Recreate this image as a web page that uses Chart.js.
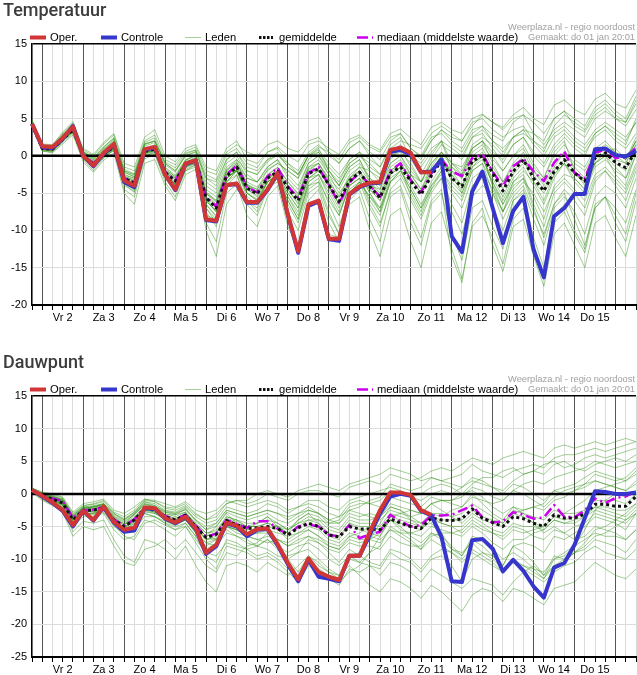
<!DOCTYPE html>
<html><head><meta charset="utf-8">
<script src="https://cdn.jsdelivr.net/npm/chart.js@4.4.1/dist/chart.umd.min.js"></script>
<style>
html,body{margin:0;padding:0;background:#fff;}
body{width:637px;height:675px;position:relative;overflow:hidden;}
.panel{position:absolute;left:0;width:637px;height:324px;}
</style></head><body>
<div class="panel" style="top:0"><canvas id="c1" width="637" height="324"></canvas></div>
<div class="panel" style="top:352px"><canvas id="c2" width="637" height="324"></canvas></div>
<script>
// ---------- tick labels / categories ----------
const dayLabels = ['Vr 2','Za 3','Zo 4','Ma 5','Di 6','Wo 7','Do 8','Vr 9','Za 10','Zo 11','Ma 12','Di 13','Wo 14','Do 15'];
const sourceLines = ['Weerplaza.nl - regio noordoost', 'Gemaakt: do 01 jan 20:01'];
const legendNames = ['Oper.', 'Controle', 'Leden', 'gemiddelde', 'mediaan (middelste waarde)'];
const times = [];
for (let i = 0; i < 60; i++) {
  const h = 18 + i * 6;
  times.push('jan ' + (1 + Math.floor(h / 24)) + ' ' + String(h % 24).padStart(2, '0') + ':00');
}

// ---------- Temperatuur ----------
const tempOper = [4.3,1.3,1.2,2.4,3.9,0.0,-1.3,0.4,1.6,-3.3,-4.0,0.9,1.2,-2.5,-4.5,-1.0,-0.6,-8.5,-8.7,-3.9,-3.7,-6.2,-6.2,-4.5,-2.3,-7.9,-12.8,-6.5,-6.0,-11.1,-11.1,-5.1,-4.1,-3.6,-3.5,0.8,1.1,0.4,-2.2,-2.2];
const tempControle = [4.3,1.2,1.1,2.3,4.0,0.0,-1.4,0.3,1.5,-3.5,-4.2,0.8,1.1,-2.5,-4.6,-1.1,-0.6,-8.6,-8.8,-3.9,-3.8,-6.3,-6.3,-4.6,-2.4,-8.0,-13.0,-6.7,-6.1,-11.2,-11.4,-5.2,-4.2,-3.7,-3.6,0.5,0.8,0.2,-2.2,-2.1,-0.5,-10.8,-12.9,-4.8,-2.1,-7.0,-11.7,-7.4,-5.5,-12.6,-16.3,-8.1,-7.0,-5.1,-5.1,0.9,1.0,0.1,-0.1,0.7];
const tempGemiddelde = [4.2,1.0,0.9,2.2,3.5,0.0,-1.1,0.2,1.2,-3.0,-3.6,0.6,0.9,-2.2,-3.4,-1.1,-0.6,-5.6,-7.0,-2.7,-1.5,-4.3,-5.1,-3.0,-2.1,-4.3,-6.0,-2.4,-1.7,-3.9,-6.1,-3.4,-2.2,-4.1,-5.6,-2.3,-1.5,-3.4,-5.2,-2.7,-0.6,-3.0,-4.1,-0.7,0.0,-2.3,-4.7,-2.1,-0.5,-3.0,-4.7,-2.1,-0.5,-2.3,-3.4,-0.3,0.4,-0.9,-1.6,0.8];
const tempMediaan = [4.2,1.0,0.9,2.3,3.6,0.1,-1.0,0.3,1.3,-3.0,-3.6,0.7,1.0,-2.1,-3.3,-1.0,-0.5,-5.5,-6.8,-2.5,-1.3,-4.2,-4.9,-2.8,-1.6,-4.1,-5.6,-2.3,-1.5,-3.9,-6.4,-3.6,-2.2,-4.0,-5.5,-2.0,-1.0,-3.3,-4.9,-2.4,-0.5,-2.1,-2.7,-0.3,0.2,-2.1,-4.1,-1.4,-0.4,-2.1,-3.4,-0.9,0.6,-2.3,-3.0,0.4,0.85,-0.3,-0.2,1.1];
const tempLeden = [
 [4.6,1.4,1.2,2.8,4.0,0.6,-0.4,1.0,2.2,-1.8,-2.4,1.6,2.0,-0.8,-1.6,0.4,0.8,-2.5,-3.2,0.2,1.0,-1.0,-1.6,0.5,1.2,0.0,-0.8,1.5,2.0,1.0,0.2,2.2,2.8,1.5,0.8,3.0,3.6,2.4,1.5,3.8,4.5,3.5,3.0,5.0,5.6,4.5,3.8,5.5,6.5,5.0,4.2,6.8,7.5,6.2,5.5,7.6,8.4,7.0,6.4,8.8],
 [4.0,0.8,0.6,2.0,3.2,-0.4,-1.5,0.0,1.0,-3.5,-4.2,0.4,0.6,-2.8,-4.0,-1.4,-1.0,-6.5,-8.2,-3.5,-2.0,-4.0,-4.5,-1.8,-1.0,-2.0,-3.0,0.2,1.2,0.5,-0.5,1.8,2.5,1.2,0.5,2.5,3.0,1.0,-0.2,2.0,3.5,2.0,1.0,3.5,4.0,2.8,2.0,4.5,5.5,4.5,3.0,5.0,6.0,4.0,3.2,5.5,6.5,5.0,4.0,6.2],
 [4.4,1.0,0.8,2.4,3.6,0.2,-1.4,0.4,1.0,-3.6,-4.6,0.2,0.6,-2.6,-4.4,-1.6,-1.0,-7.5,-9.5,-4.0,-2.6,-6.0,-7.5,-4.2,-3.5,-7.5,-10.0,-5.0,-4.0,-8.0,-10.5,-6.0,-4.5,-8.5,-11.5,-5.5,-4.5,-9.0,-12.0,-6.5,-5.0,-10.5,-14.0,-7.0,-6.0,-9.5,-12.5,-6.0,-5.0,-11.0,-15.0,-8.0,-6.5,-10.0,-12.5,-6.5,-5.5,-9.0,-11.5,-6.0],
 [4.1,1.1,1.0,2.2,3.4,0.0,-1.0,0.4,1.4,-2.8,-3.2,0.8,1.0,-2.0,-3.0,-0.8,-0.2,-4.8,-6.0,-2.0,-1.0,-3.5,-4.2,-2.5,-1.5,-3.5,-5.0,-1.5,-1.0,-3.0,-4.5,-2.0,-1.0,-3.0,-4.0,-1.0,0.0,-2.0,-3.5,-1.0,0.5,-1.5,-2.5,0.5,1.5,-0.5,-2.0,0.0,1.0,-1.5,-3.0,0.0,1.5,-0.5,-1.5,1.0,2.0,0.5,-0.5,2.0],
 [4.3,0.9,0.7,2.0,3.3,-0.5,-2.0,-0.3,0.8,-4.5,-5.5,-0.4,0.2,-3.5,-5.5,-2.0,-1.2,-9.0,-11.5,-5.0,-3.8,-8.0,-9.5,-5.5,-4.0,-9.5,-12.5,-6.0,-4.5,-9.0,-11.5,-5.0,-3.5,-5.5,-7.0,-2.5,-1.5,-2.5,-3.5,-1.0,0.5,-1.0,-1.5,1.0,2.0,0.5,-0.5,1.5,2.5,0.5,-1.0,1.5,3.0,1.5,0.5,2.5,3.5,2.0,1.0,3.0],
 [4.2,1.2,1.0,2.5,3.8,0.2,-0.8,0.5,1.6,-2.5,-3.0,1.0,1.5,-1.5,-2.6,-0.5,0.0,-4.5,-5.5,-1.8,-0.8,-3.8,-4.8,-2.8,-2.5,-5.5,-8.0,-4.0,-3.5,-7.5,-10.5,-6.5,-5.5,-10.0,-13.5,-8.0,-7.0,-11.5,-15.0,-9.0,-7.5,-12.5,-16.5,-9.5,-8.0,-11.0,-14.5,-8.5,-7.0,-12.0,-16.0,-9.0,-7.5,-10.5,-13.0,-7.0,-5.5,-7.0,-9.0,-4.5],
 [4.0,0.6,0.5,1.8,3.0,-0.3,-1.2,0.0,0.9,-3.2,-3.8,0.4,0.8,-2.4,-3.6,-1.2,-0.6,-5.0,-6.0,-2.0,-0.5,-2.0,-2.5,-0.5,0.5,-1.5,-2.5,0.0,0.8,-1.0,-2.5,-0.5,0.5,-2.0,-3.5,-0.5,1.0,0.5,-0.5,2.0,3.5,2.5,2.0,4.0,5.5,4.5,3.5,5.0,5.5,3.0,1.5,3.5,4.5,3.5,2.5,5.0,6.0,5.0,4.5,7.0],
 [4.5,1.3,1.1,2.6,3.9,0.4,-0.6,0.8,2.0,-2.2,-2.8,1.3,1.8,-1.6,-2.8,-0.6,0.2,-6.0,-7.5,-3.0,-2.0,-5.5,-6.5,-3.5,-2.5,-5.0,-7.0,-3.0,-2.0,-4.0,-6.5,-3.0,-1.5,-2.0,-3.0,0.5,1.5,0.0,-1.0,1.0,2.0,-2.0,-4.0,-1.0,0.0,-4.0,-6.5,-3.5,-2.5,-6.5,-9.5,-5.0,-3.5,-5.0,-7.0,-3.0,-2.0,-4.0,-6.0,-2.0],
 [4.0,0.7,0.4,1.6,2.8,-0.8,-2.2,-0.6,0.4,-5.0,-6.5,-1.0,-0.5,-4.0,-6.0,-2.5,-1.8,-10.0,-13.5,-6.5,-4.5,-6.0,-7.0,-4.0,-3.0,-6.0,-8.5,-3.5,-2.5,-5.5,-8.0,-4.0,-3.0,-6.0,-8.0,-3.5,-2.5,-5.0,-7.5,-4.0,-2.0,-4.5,-6.0,-2.0,-1.0,-3.5,-6.0,-3.0,-1.5,-4.0,-6.5,-3.0,-1.0,-3.5,-5.0,-1.5,-0.5,-2.0,-3.0,0.0],
 [4.8,1.6,1.5,3.2,4.6,1.0,0.2,1.8,3.0,-1.0,-1.5,2.5,3.5,0.0,-0.8,1.0,1.5,-1.5,-2.0,1.0,2.0,-0.5,-1.0,0.5,1.0,-1.0,-2.5,0.0,0.5,-2.0,-4.0,-1.5,-0.5,-3.0,-4.5,-1.0,0.0,-2.5,-4.5,-2.0,0.0,-3.5,-5.0,-1.5,-0.5,-3.0,-5.5,-2.5,-1.0,-2.0,-3.5,-1.0,0.5,-1.0,-2.0,0.5,1.5,0.5,-0.5,2.0],
 [4.2,0.9,0.9,2.1,3.4,0.0,-1.2,0.1,1.0,-3.2,-4.0,0.5,0.7,-2.4,-3.8,-1.4,-0.9,-6.0,-7.5,-3.0,-2.0,-5.0,-6.0,-3.5,-2.8,-5.5,-7.5,-3.5,-2.5,-4.5,-7.0,-4.0,-3.0,-6.5,-9.0,-5.0,-4.0,-8.0,-11.0,-6.0,-4.5,-13.5,-17.0,-9.0,-7.0,-12.0,-15.5,-9.5,-8.5,-13.5,-17.5,-10.5,-9.0,-12.0,-15.0,-9.0,-8.0,-11.0,-13.5,-8.0],
 [3.9,1.0,0.8,2.4,3.8,0.6,-0.2,1.2,2.4,-2.0,-2.5,1.8,2.4,-1.0,-2.0,0.0,0.6,-3.5,-4.5,-1.0,0.0,-2.5,-3.5,-1.5,-0.5,-2.5,-4.0,-1.0,0.0,-2.0,-3.5,-0.5,0.5,-0.5,-1.5,1.0,2.0,1.5,1.0,3.0,4.0,3.0,2.0,4.5,5.0,3.5,2.5,3.5,4.0,2.0,1.0,3.0,4.0,2.5,1.5,3.5,4.5,3.5,2.5,4.5],
 [4.4,1.1,0.9,2.3,3.6,0.1,-1.0,0.2,1.1,-3.0,-3.8,0.6,0.8,-2.4,-3.8,-1.2,-0.8,-7.0,-9.0,-3.5,-2.5,-6.5,-8.0,-4.5,-3.0,-6.0,-8.5,-4.0,-3.0,-6.5,-9.5,-5.0,-3.5,-7.0,-9.5,-4.5,-3.0,-6.0,-8.5,-5.0,-3.0,-6.5,-9.0,-4.0,-3.0,-7.0,-10.0,-6.0,-4.5,-8.5,-12.0,-7.0,-5.5,-7.5,-10.5,-5.5,-4.0,-5.0,-7.0,-3.0],
 [4.3,1.2,1.3,2.6,3.7,0.3,-0.7,0.6,1.5,-2.6,-3.0,1.0,1.2,-1.8,-2.8,-0.6,0.0,-4.0,-5.0,-1.5,-0.5,-3.0,-3.5,-2.0,-1.0,-2.0,-3.0,-0.5,0.5,-1.5,-3.0,-1.0,0.0,-1.0,-2.5,0.5,1.0,-1.5,-3.5,-0.5,1.5,0.5,-0.5,2.5,3.0,1.0,-1.0,1.5,2.5,0.0,-1.5,1.0,2.5,1.0,0.0,3.0,4.0,2.5,1.5,5.0],
 [4.3,1.3,1.1,2.4,3.9,0.0,-1.3,0.3,1.5,-3.3,-4.0,0.9,1.2,-2.5,-4.5,-1.0,-0.6,-8.0,-8.5,-3.8,-3.5,-6.0,-6.2,-4.5,-2.5,-8.0,-12.5,-6.5,-6.0,-10.5,-11.0,-5.0,-4.0,-4.0,-4.5,0.0,0.5,-1.0,-3.5,-2.0,0.0,-2.5,-5.0,-1.5,0.0,-4.0,-7.5,-4.5,-3.0,-5.5,-8.5,-4.0,-2.5,-3.0,-4.5,-1.0,0.5,1.0,-0.5,2.5],
 [4.1,0.8,0.7,2.0,3.3,-0.2,-1.5,-0.1,0.7,-3.8,-4.8,0.0,0.4,-3.0,-4.8,-2.0,-1.5,-5.5,-6.5,-2.5,-1.0,-3.0,-3.5,-1.5,-0.5,-3.0,-4.5,-1.0,0.0,-2.5,-5.0,-3.0,-2.0,-5.0,-7.5,-3.5,-2.0,-4.5,-7.0,-3.5,-1.5,-1.5,-3.0,1.0,2.0,0.0,-2.0,0.0,1.5,-1.0,-3.0,0.5,2.0,-2.0,-4.0,-1.0,0.0,-1.5,-3.0,1.0],
 [4.6,1.5,1.4,3.0,4.4,0.8,0.0,1.6,2.8,-1.5,-2.0,2.0,2.8,-0.5,-1.2,0.6,1.2,-2.0,-2.5,0.5,1.5,0.5,0.0,1.5,2.0,1.0,0.5,2.0,2.5,0.5,-1.0,1.0,2.0,0.0,-1.5,1.5,2.5,-0.5,-2.5,0.0,2.0,-1.0,-2.5,1.5,2.5,1.5,0.0,2.5,3.0,2.0,0.5,4.0,5.5,4.5,3.5,6.0,7.0,5.5,4.5,7.5],
 [4.0,0.9,0.8,2.1,3.4,-0.1,-1.1,0.2,1.2,-2.9,-3.4,0.7,1.0,-2.2,-3.2,-1.0,-0.5,-5.0,-6.5,-2.5,-1.5,-4.0,-5.0,-3.0,-2.0,-4.0,-5.5,-2.0,-1.0,-3.5,-5.5,-3.0,-2.0,-4.5,-6.0,-2.5,-1.0,-3.0,-5.0,-2.0,0.0,-2.5,-4.0,-1.0,0.0,-3.5,-6.5,-4.0,-3.0,-7.0,-11.0,-6.5,-5.0,-8.5,-12.0,-7.0,-5.5,-8.0,-10.5,-5.0],
 [4.2,1.0,0.8,2.2,3.5,-0.1,-1.3,0.0,1.1,-3.4,-4.2,0.3,0.7,-2.6,-4.0,-1.5,-1.0,-6.5,-8.0,-3.0,-1.8,-5.0,-6.0,-3.5,-2.5,-5.0,-7.0,-3.0,-2.5,-5.0,-7.5,-4.5,-3.5,-5.5,-7.5,-3.0,-2.0,-4.0,-6.5,-4.0,-2.5,-5.0,-7.0,-3.0,-2.0,-4.5,-7.5,-5.0,-3.5,-5.0,-7.5,-4.5,-3.0,-4.5,-6.0,-2.5,-1.5,-3.0,-4.5,-1.0],
 [4.7,1.4,1.3,2.9,4.1,0.5,-0.3,1.2,2.4,-2.0,-2.6,1.6,2.0,-1.2,-2.2,0.0,0.5,-3.0,-3.5,-0.5,0.5,-1.5,-2.0,-0.5,0.0,-1.0,-2.0,0.5,1.5,0.0,-1.0,1.0,2.0,0.5,-0.5,2.0,3.0,1.0,0.0,2.5,3.0,1.5,0.5,3.0,4.0,2.0,0.5,2.5,3.5,3.0,2.0,5.0,6.0,5.0,4.0,6.5,7.5,6.0,5.0,8.0],
 [4.4,1.2,1.1,2.5,3.7,0.2,-0.9,0.4,1.4,-2.7,-3.3,0.8,1.1,-1.9,-3.0,-0.9,-0.3,-5.0,-6.2,-2.2,-1.2,-3.8,-4.5,-2.6,-1.6,-3.5,-5.2,-1.8,-1.0,-3.2,-5.5,-2.6,-1.5,-3.5,-5.0,-1.5,-0.5,-2.5,-4.5,-1.5,0.5,-1.0,-2.0,1.0,2.0,-1.0,-3.5,-1.0,0.5,-2.0,-4.0,-1.5,0.5,-1.5,-3.0,0.0,1.0,0.0,-1.0,2.0],
 [4.1,0.9,0.8,2.0,3.2,-0.3,-1.6,-0.2,0.8,-3.9,-4.9,0.0,0.5,-3.0,-4.6,-1.8,-1.2,-7.0,-8.5,-3.5,-2.0,-4.5,-5.0,-3.0,-2.0,-6.5,-9.0,-4.5,-3.5,-6.0,-8.0,-4.0,-3.0,-4.5,-6.0,-2.5,-1.5,-5.5,-8.0,-4.5,-3.0,-7.5,-10.5,-5.5,-4.0,-5.0,-7.5,-3.5,-2.0,-3.5,-6.0,-2.5,-1.0,-3.0,-4.5,-1.0,0.0,-2.5,-4.0,0.5],
 [4.5,1.3,1.2,2.7,3.9,0.5,-0.5,0.9,2.0,-2.2,-2.8,1.5,2.0,-1.0,-2.0,0.2,0.8,-3.0,-4.0,-0.5,0.5,-2.0,-2.5,-0.8,0.2,-1.5,-2.5,0.0,1.0,-2.0,-4.0,-1.5,-0.5,-3.5,-5.5,-2.0,-1.0,-3.0,-5.0,-2.5,-0.5,-2.0,-3.0,0.0,1.0,-1.5,-3.5,-1.5,0.0,-2.5,-4.5,-2.0,-0.5,-2.0,-3.5,-0.5,0.5,-1.0,-2.0,1.5],
 [4.2,1.0,0.9,2.2,3.5,0.0,-1.1,0.2,1.2,-3.0,-3.6,0.6,0.9,-2.2,-3.6,-1.2,-0.7,-5.5,-7.0,-3.0,-2.0,-4.5,-5.5,-3.5,-2.5,-4.5,-6.5,-3.0,-2.0,-4.0,-6.5,-3.5,-2.5,-5.0,-7.0,-3.5,-2.0,-4.5,-7.0,-4.5,-2.0,-4.0,-5.5,-2.0,-1.0,-5.0,-8.5,-5.5,-4.0,-7.5,-10.5,-6.5,-4.5,-6.0,-8.0,-3.5,-2.0,-3.5,-5.0,-1.5],
 [4.3,1.1,1.0,2.3,3.6,0.1,-1.1,0.3,1.3,-3.1,-3.7,0.7,1.0,-2.1,-3.3,-1.0,-0.5,-5.8,-7.3,-2.8,-1.5,-4.5,-5.3,-3.2,-2.2,-4.5,-6.3,-2.5,-1.8,-4.0,-6.5,-3.5,-2.0,-4.0,-5.5,-2.0,-1.0,-3.0,-5.0,-2.5,-0.5,-3.0,-4.5,-0.5,0.5,-2.0,-4.5,-2.0,-0.5,-3.5,-5.0,-2.5,-1.0,-2.5,-3.5,0.0,1.0,-0.5,-1.0,1.5],
 [4.0,0.8,0.6,2.0,3.3,-0.2,-1.3,0.0,1.0,-3.3,-4.0,0.4,0.8,-2.4,-3.8,-1.3,-0.8,-6.0,-7.5,-3.0,-1.8,-5.0,-5.8,-3.5,-2.5,-4.0,-5.5,-1.5,-0.5,-2.5,-4.0,-1.0,0.0,-1.5,-2.5,0.0,1.0,0.0,-1.5,0.5,2.0,1.0,0.0,2.5,3.5,2.0,1.0,2.5,3.5,1.5,0.0,2.5,3.5,2.0,1.0,3.0,4.0,3.0,2.0,4.5]
];

// ---------- Dauwpunt ----------
const dewOper = [0.6,-0.3,-1.3,-2.5,-4.8,-2.6,-4.0,-1.9,-4.3,-5.5,-5.2,-2.1,-2.2,-3.7,-4.4,-3.5,-5.3,-9.0,-7.8,-4.4,-4.9,-6.2,-5.4,-5.3,-7.7,-10.6,-13.1,-9.9,-12.0,-12.7,-13.2,-9.5,-9.5,-5.8,-2.5,0.2,0.2,-0.2,-2.5,-3.2];
const dewControle = [0.6,-0.4,-1.4,-2.6,-5.0,-2.6,-4.1,-2.0,-4.4,-5.8,-5.6,-2.2,-2.3,-3.8,-4.5,-3.6,-5.4,-9.2,-8.0,-4.5,-5.0,-6.5,-5.5,-5.4,-7.9,-10.8,-13.4,-10.1,-12.7,-13.0,-13.4,-9.5,-9.5,-6.3,-3.0,-0.4,0.0,-0.3,-2.6,-3.3,-6.6,-13.4,-13.5,-7.1,-6.9,-8.4,-11.9,-10.1,-11.8,-14.2,-15.9,-11.3,-10.6,-7.8,-3.7,0.4,0.3,0.0,0.0,0.2];
const dewGemiddelde = [0.5,-0.3,-0.8,-1.4,-4.0,-2.5,-2.5,-2.1,-4.0,-5.0,-4.0,-2.2,-2.5,-3.5,-4.0,-3.3,-5.0,-6.7,-6.2,-4.1,-4.7,-5.3,-5.2,-5.0,-5.3,-6.3,-5.2,-4.5,-5.0,-6.3,-6.6,-5.0,-5.4,-5.4,-5.5,-3.8,-4.5,-5.0,-5.3,-3.7,-4.0,-4.1,-3.8,-2.3,-3.7,-4.4,-5.0,-3.5,-3.8,-4.5,-5.0,-3.2,-3.7,-3.7,-3.1,-1.6,-1.6,-1.9,-1.9,-0.4];
const dewMediaan = [0.5,-0.3,-0.7,-1.1,-3.7,-2.5,-2.4,-2.0,-3.9,-4.9,-3.9,-2.1,-2.4,-3.4,-3.9,-3.2,-4.9,-6.6,-6.1,-4.0,-4.6,-5.2,-4.2,-4.2,-5.3,-6.3,-5.0,-4.7,-5.0,-6.3,-6.5,-4.8,-6.8,-6.2,-5.8,-3.2,-4.2,-5.0,-4.8,-3.3,-3.3,-3.2,-2.5,-1.8,-3.6,-4.4,-4.2,-2.8,-3.2,-3.8,-3.6,-1.7,-3.5,-3.6,-2.5,-0.7,-1.4,-0.6,-0.4,0.4];
const dewLeden = [
 [0.8,0.2,-0.3,-0.8,-3.2,-1.8,-1.5,-1.0,-2.8,-3.5,-2.5,-0.8,-1.2,-2.0,-2.2,-1.5,-3.0,-4.0,-3.0,-1.5,-1.0,-1.5,-1.0,0.0,-0.5,-1.0,0.0,0.5,0.5,0.0,-0.5,1.0,1.5,2.0,1.5,3.0,2.5,2.0,2.5,3.5,4.0,3.5,4.5,5.5,5.0,4.5,5.5,6.0,6.5,6.0,5.5,7.0,7.5,7.0,7.5,8.0,7.5,8.0,8.5,8.0],
 [0.6,-0.5,-1.2,-2.0,-5.0,-3.5,-3.5,-3.0,-5.5,-7.0,-6.5,-4.0,-4.5,-5.5,-6.5,-5.0,-7.5,-10.0,-11.5,-8.0,-8.5,-9.0,-10.0,-9.5,-10.5,-12.0,-13.5,-11.0,-12.0,-13.0,-14.0,-11.5,-12.0,-11.0,-11.5,-9.0,-10.0,-10.5,-12.0,-10.0,-9.5,-11.0,-13.5,-10.0,-9.0,-9.5,-11.0,-8.0,-9.0,-10.5,-12.5,-9.5,-10.0,-9.0,-8.5,-7.0,-7.5,-8.0,-9.0,-7.0],
 [0.4,-0.4,-0.9,-1.5,-3.8,-2.3,-2.2,-1.8,-3.6,-4.6,-3.5,-1.8,-2.0,-3.0,-3.5,-2.8,-4.5,-6.0,-5.5,-3.5,-4.0,-4.5,-4.5,-4.0,-4.5,-5.5,-4.5,-3.5,-4.0,-5.5,-6.0,-4.0,-4.5,-4.5,-5.0,-3.0,-3.5,-4.0,-4.5,-3.0,-3.0,-3.5,-3.0,-1.5,-2.5,-3.5,-4.5,-2.5,-3.0,-3.5,-4.0,-2.5,-3.0,-3.0,-2.5,-1.0,-1.0,-1.0,-1.5,0.0],
 [0.3,-0.8,-1.6,-2.6,-5.8,-4.2,-4.5,-4.0,-7.0,-9.5,-10.5,-7.0,-7.5,-8.5,-10.0,-8.0,-11.0,-13.5,-15.0,-11.0,-10.5,-11.0,-12.0,-10.5,-11.5,-12.5,-11.0,-9.5,-10.5,-12.0,-13.0,-10.0,-10.5,-9.0,-8.0,-5.0,-6.0,-7.0,-8.5,-6.0,-6.5,-8.0,-9.5,-7.0,-8.0,-9.5,-11.0,-8.0,-7.5,-8.0,-9.0,-6.5,-7.0,-6.0,-5.0,-3.5,-4.0,-4.5,-5.5,-3.0],
 [0.7,0.0,-0.5,-1.0,-3.4,-2.0,-1.8,-1.5,-3.2,-4.0,-3.0,-1.2,-1.5,-2.5,-2.8,-2.0,-3.5,-4.5,-4.0,-2.0,-2.5,-3.0,-2.5,-1.5,-2.0,-3.0,-2.0,-1.0,-1.0,-2.0,-2.5,-1.0,-0.5,0.0,0.5,1.0,0.5,-0.5,-1.0,0.0,0.5,0.0,1.0,2.5,2.0,1.0,0.0,1.5,1.0,0.0,-1.0,0.5,1.0,1.5,2.5,3.5,3.0,2.5,2.0,3.5],
 [0.5,-0.3,-1.2,-2.4,-4.6,-2.8,-3.8,-2.2,-4.5,-5.8,-5.5,-2.5,-2.8,-4.0,-4.8,-4.0,-6.0,-8.5,-7.5,-5.0,-5.5,-6.5,-6.0,-6.0,-8.0,-10.0,-12.0,-9.5,-11.0,-12.0,-12.5,-9.5,-9.0,-7.0,-4.5,-2.0,-2.5,-4.0,-5.0,-4.5,-6.0,-8.5,-9.5,-6.5,-7.0,-8.5,-10.0,-9.0,-10.0,-11.5,-13.0,-10.0,-9.5,-8.0,-5.5,-2.5,-1.0,0.0,-0.5,0.5],
 [0.5,-0.2,-0.7,-1.2,-3.6,-2.6,-2.8,-2.5,-4.4,-5.5,-4.5,-3.0,-3.5,-4.5,-5.0,-4.5,-6.5,-8.0,-7.0,-5.0,-6.0,-6.5,-7.0,-7.5,-7.0,-8.0,-7.0,-6.5,-7.5,-8.5,-9.0,-7.5,-8.0,-8.0,-8.5,-6.5,-7.5,-8.0,-8.0,-6.5,-6.0,-6.0,-5.5,-4.0,-5.0,-6.0,-6.5,-5.0,-5.5,-6.5,-7.0,-5.5,-6.0,-5.0,-4.5,-3.0,-3.5,-4.0,-4.5,-3.0],
 [0.4,-0.6,-1.0,-1.6,-4.2,-3.0,-3.0,-2.8,-5.0,-6.0,-5.0,-3.0,-3.5,-4.5,-5.5,-5.0,-7.0,-9.0,-9.5,-7.5,-8.0,-8.5,-8.0,-7.0,-8.5,-9.5,-9.0,-8.5,-10.0,-11.5,-12.5,-11.0,-12.5,-14.0,-15.0,-13.0,-13.5,-14.5,-16.0,-14.0,-15.0,-16.5,-18.0,-15.5,-14.5,-15.0,-16.5,-14.5,-15.0,-16.0,-17.0,-14.5,-14.0,-13.5,-12.0,-10.5,-11.5,-12.5,-13.0,-11.5],
 [0.9,0.3,0.0,-0.5,-2.8,-1.5,-1.2,-0.8,-2.5,-3.0,-2.0,-0.8,-1.0,-1.5,-2.0,-1.2,-2.5,-3.0,-2.5,-1.0,-1.5,-2.0,-1.5,-1.0,-1.5,-2.5,-2.0,-1.5,-2.0,-3.0,-3.5,-2.5,-3.0,-3.5,-4.0,-2.5,-3.0,-3.5,-3.0,-1.5,-1.0,-1.0,0.0,0.5,-0.5,-2.0,-3.0,-2.0,-3.0,-4.5,-6.0,-5.0,-6.0,-7.0,-6.5,-5.0,-5.5,-6.0,-7.0,-5.5],
 [0.6,-0.3,-0.6,-1.1,-3.9,-2.4,-2.0,-1.6,-3.8,-4.8,-3.0,-1.5,-2.0,-3.2,-3.2,-2.8,-4.8,-6.5,-5.0,-3.0,-4.5,-5.5,-4.5,-3.5,-5.0,-6.0,-4.0,-3.0,-4.5,-6.5,-7.0,-4.5,-5.5,-6.0,-6.5,-4.0,-5.5,-6.0,-5.5,-3.0,-3.5,-2.5,-2.0,0.0,-1.5,-3.0,-4.0,-2.0,-2.5,-2.0,-1.5,0.5,0.0,0.5,1.5,3.0,2.5,2.0,2.5,4.0],
 [0.2,-1.0,-1.8,-2.8,-6.5,-5.0,-5.5,-5.0,-8.0,-10.5,-11.0,-8.5,-8.0,-7.0,-8.5,-7.0,-9.0,-11.0,-12.0,-9.0,-9.5,-8.0,-7.5,-6.0,-7.0,-7.5,-6.5,-5.5,-6.5,-8.0,-8.5,-6.5,-6.0,-5.0,-5.5,-4.0,-5.0,-6.5,-7.5,-6.0,-7.0,-8.5,-9.0,-7.5,-9.0,-10.0,-11.5,-10.0,-11.0,-12.0,-13.0,-11.0,-10.5,-9.0,-7.5,-5.5,-5.0,-4.0,-3.0,-1.5],
 [0.5,-0.2,-0.6,-1.0,-3.5,-2.2,-2.0,-1.8,-3.8,-4.6,-3.8,-2.0,-2.2,-3.2,-3.8,-3.0,-4.6,-6.0,-5.8,-3.8,-4.2,-5.0,-5.0,-4.5,-5.0,-5.5,-4.5,-4.0,-4.0,-4.5,-4.0,-2.0,-1.5,-1.5,-1.0,0.5,0.0,-0.5,0.0,1.0,1.5,1.0,0.0,1.5,2.5,2.5,3.5,4.0,3.0,3.5,4.5,5.0,4.0,4.5,5.5,6.0,5.5,6.0,6.5,7.0],
 [0.4,-0.5,-1.0,-1.8,-4.4,-3.2,-3.0,-2.6,-4.6,-6.0,-5.5,-3.5,-3.5,-4.2,-4.8,-4.0,-6.0,-7.5,-8.0,-6.0,-6.5,-7.0,-8.0,-8.5,-9.5,-10.0,-9.0,-7.0,-7.5,-9.0,-10.5,-8.5,-9.5,-10.5,-11.0,-8.5,-9.0,-10.0,-11.5,-9.5,-8.5,-9.0,-10.5,-9.0,-10.0,-11.0,-12.0,-10.5,-11.5,-12.5,-13.5,-12.0,-11.0,-10.5,-9.0,-8.0,-9.0,-9.5,-10.0,-8.5],
 [0.7,-0.1,-0.4,-0.9,-3.3,-2.0,-2.2,-1.5,-3.0,-4.0,-2.8,-1.2,-1.8,-2.6,-3.0,-2.2,-4.0,-5.5,-4.5,-2.5,-3.0,-3.5,-3.0,-2.5,-3.0,-3.5,-3.0,-2.0,-3.0,-4.5,-4.5,-2.5,-2.0,-1.0,-0.5,1.5,1.0,0.5,1.0,2.5,2.0,2.5,3.0,4.5,3.5,3.0,2.5,3.5,4.0,4.5,4.0,5.5,6.0,6.0,6.5,7.0,6.5,7.0,7.5,8.0],
 [0.5,-0.4,-1.1,-2.0,-4.5,-3.0,-3.2,-2.4,-4.8,-6.5,-7.0,-4.5,-4.0,-4.8,-5.5,-4.5,-6.5,-9.5,-10.5,-7.0,-7.5,-8.5,-9.5,-9.0,-10.0,-11.5,-12.5,-10.5,-11.5,-12.5,-13.5,-12.0,-11.0,-9.0,-6.5,-3.5,-3.0,-2.5,-3.0,-1.5,-1.0,-1.5,-2.0,-0.5,-1.0,-1.5,-1.0,0.5,0.0,-1.0,-2.0,-0.5,0.5,1.0,1.5,2.0,1.5,1.0,0.5,1.5],
 [0.3,-0.6,-1.1,-1.7,-4.0,-2.8,-2.6,-2.3,-4.2,-5.2,-4.2,-2.4,-2.8,-3.8,-4.2,-3.6,-5.2,-7.0,-6.5,-4.5,-5.0,-5.5,-5.5,-5.0,-5.5,-7.0,-6.0,-5.5,-6.5,-7.5,-8.0,-6.5,-7.0,-7.0,-7.5,-5.5,-6.0,-6.0,-6.5,-5.0,-5.5,-6.0,-6.5,-5.0,-6.0,-7.5,-8.5,-7.0,-7.0,-6.0,-5.5,-4.0,-4.5,-4.0,-3.5,-2.5,-3.0,-3.5,-4.0,-2.5],
 [0.8,0.1,-0.2,-0.6,-3.0,-1.8,-1.6,-1.2,-3.0,-3.8,-2.8,-1.0,-1.2,-2.2,-2.5,-1.8,-3.2,-4.0,-3.5,-1.5,-1.0,-1.0,0.0,0.5,0.0,-0.5,0.5,1.0,1.5,1.0,0.5,1.5,2.0,2.5,3.0,4.0,3.5,3.0,2.0,2.5,2.0,1.5,1.0,2.0,1.5,1.0,0.5,2.0,3.0,3.5,3.0,4.5,5.0,4.0,3.5,4.5,5.0,5.5,5.0,6.0],
 [0.6,-0.3,-0.8,-1.3,-4.1,-2.6,-2.4,-2.0,-4.1,-5.0,-4.2,-2.3,-2.6,-3.6,-4.0,-3.4,-5.2,-6.8,-7.0,-5.5,-6.5,-7.5,-8.0,-7.0,-8.0,-9.0,-8.0,-7.5,-8.5,-10.0,-11.0,-9.5,-10.5,-11.0,-12.5,-10.5,-11.0,-12.0,-13.5,-11.5,-12.5,-13.5,-14.5,-13.0,-13.5,-14.0,-15.5,-13.5,-12.0,-11.0,-12.5,-11.0,-10.0,-9.0,-8.0,-6.5,-6.0,-5.0,-4.0,-3.0],
 [0.5,-0.3,-0.8,-1.4,-4.0,-2.5,-2.6,-2.2,-4.1,-5.1,-4.1,-2.3,-2.6,-3.5,-4.0,-3.4,-5.0,-6.5,-6.0,-4.0,-4.6,-5.0,-5.0,-4.5,-5.0,-6.0,-5.0,-4.0,-4.5,-6.0,-6.5,-4.5,-5.0,-5.0,-5.5,-3.5,-4.0,-4.5,-5.0,-3.5,-4.0,-4.0,-4.0,-2.5,-3.5,-4.0,-4.5,-3.0,-3.5,-4.5,-5.0,-3.5,-4.0,-3.5,-3.0,-2.0,-2.0,-2.5,-2.5,-1.5],
 [0.6,-0.1,-0.5,-1.0,-3.6,-2.2,-2.0,-1.6,-3.5,-4.4,-3.2,-1.6,-2.0,-2.8,-3.2,-2.4,-4.2,-5.5,-5.0,-2.8,-3.5,-4.0,-3.5,-3.0,-4.0,-4.5,-3.5,-2.5,-3.0,-4.0,-4.5,-3.0,-3.5,-3.0,-3.5,-2.0,-2.5,-3.5,-4.5,-3.5,-4.5,-5.0,-6.0,-4.5,-5.5,-6.0,-7.0,-5.5,-6.0,-5.5,-5.0,-3.5,-3.0,-2.0,-1.0,0.5,1.0,1.5,2.0,3.0],
 [0.4,-0.5,-1.0,-1.7,-4.3,-3.0,-2.9,-2.5,-4.5,-5.5,-4.6,-2.8,-3.0,-4.0,-4.6,-4.0,-5.8,-7.5,-7.0,-5.0,-5.5,-6.5,-7.0,-6.5,-7.0,-8.0,-7.5,-6.5,-7.0,-8.0,-8.5,-7.0,-7.5,-7.0,-6.0,-4.0,-4.5,-5.0,-5.5,-4.0,-4.5,-5.0,-5.0,-3.5,-4.5,-5.5,-6.0,-4.5,-5.0,-5.0,-5.5,-4.0,-4.5,-4.5,-3.5,-2.0,-2.5,-3.0,-3.5,-2.0],
 [0.7,0.0,-0.4,-0.8,-3.4,-2.1,-1.9,-1.5,-3.4,-4.2,-3.2,-1.5,-1.8,-2.8,-3.0,-2.4,-4.0,-5.0,-4.5,-2.5,-3.0,-3.5,-3.0,-2.5,-3.0,-4.0,-3.0,-2.5,-3.0,-4.0,-3.5,-1.5,-1.0,-1.5,-2.0,-0.5,-1.0,-1.5,-2.0,-0.5,-1.0,-1.0,-0.5,1.0,0.5,-0.5,-1.0,0.5,1.5,2.0,1.5,2.5,3.0,3.5,4.0,5.0,4.5,4.0,4.5,5.0],
 [0.5,-0.4,-0.9,-1.5,-4.0,-2.7,-2.7,-2.3,-4.2,-5.2,-4.4,-2.6,-3.0,-3.8,-4.4,-3.8,-5.5,-7.0,-6.8,-5.0,-5.5,-6.0,-6.0,-5.5,-6.0,-6.5,-6.0,-5.0,-5.5,-7.0,-7.5,-6.0,-6.5,-6.5,-7.0,-5.5,-6.5,-7.5,-8.5,-7.0,-8.0,-9.0,-10.0,-8.5,-9.5,-10.5,-12.0,-10.5,-11.0,-11.5,-12.0,-10.0,-9.0,-8.0,-7.0,-6.0,-6.5,-6.5,-7.0,-5.5],
 [0.6,-0.2,-0.6,-1.2,-3.8,-2.4,-2.3,-2.0,-4.0,-4.8,-3.8,-2.0,-2.4,-3.3,-3.8,-3.0,-4.8,-6.5,-6.0,-3.5,-4.0,-5.0,-4.5,-3.5,-4.5,-5.5,-4.0,-3.0,-3.5,-5.0,-5.5,-3.5,-4.0,-4.0,-3.5,-1.5,-2.0,-2.5,-3.0,-1.5,-2.5,-3.5,-4.5,-3.0,-4.0,-4.5,-5.0,-3.0,-2.5,-2.0,-2.5,-1.0,-0.5,0.5,1.0,2.0,1.5,1.0,0.5,2.0]
];

// ---------- styles ----------
const FONT = 'Liberation Sans, Arial, Helvetica, sans-serif';
const C_OPER = '#d03636', C_CTRL = '#3636cc', C_LID = 'rgba(45,145,15,0.45)', C_MEAN = '#111111', C_MED = '#cc00ee';
const legendSpec = [
  {x: 30, len: 16, color: C_OPER, width: 4, dash: []},
  {x: 101, len: 16, color: C_CTRL, width: 4, dash: []},
  {x: 185, len: 16, color: 'rgba(90,170,60,0.55)', width: 1, dash: []},
  {x: 259, len: 14, color: C_MEAN, width: 3, dash: [2.5, 1.5]},
  {x: 357, len: 16, color: C_MED, width: 2.5, dash: [11, 4, 2, 4]}
];

const headerPlugin = {
  id: 'header',
  afterDraw(chart, args, opts) {
    const ctx = chart.ctx;
    ctx.save();
    ctx.fillStyle = '#3c3c3c';
    ctx.font = '500 18px Roboto, "Open Sans", sans-serif';
    ctx.textAlign = 'left';
    ctx.textBaseline = 'alphabetic';
    ctx.fillText(opts.title, 3, 16);
    ctx.font = '9.3px ' + FONT;
    ctx.fillStyle = '#a0a0a0';
    ctx.textAlign = 'right';
    ctx.textBaseline = 'middle';
    ctx.fillText(sourceLines[0], 635, 27.5);
    ctx.fillText(sourceLines[1], 635, 37.5);
    ctx.font = '11.2px ' + FONT;
    ctx.textAlign = 'left';
    legendSpec.forEach((s, k) => {
      ctx.beginPath();
      ctx.setLineDash(s.dash);
      ctx.lineWidth = s.width;
      ctx.strokeStyle = s.color;
      ctx.moveTo(s.x, 37.5);
      ctx.lineTo(s.x + s.len, 37.5);
      ctx.stroke();
      ctx.setLineDash([]);
      ctx.fillStyle = '#000';
      ctx.fillText(legendNames[k], s.x + 20, 38);
    });
    ctx.restore();
  },
  beforeDatasetDraw(chart, args) {
    if (chart.data.datasets[args.index].label !== 'mediaan') return;
    const ctx = chart.ctx, a = chart.chartArea;
    const y = chart.scales.y.getPixelForValue(0);
    ctx.save();
    ctx.strokeStyle = '#000';
    ctx.lineWidth = 2.5;
    ctx.beginPath();
    ctx.moveTo(a.left, y);
    ctx.lineTo(a.right, y);
    ctx.stroke();
    ctx.restore();
  }
};

function makeChart(id, title, yMin, yMax, oper, ctrl, mean, median, leden) {
  const datasets = [
    {label: 'Oper.', data: oper, borderColor: C_OPER, borderWidth: 4, order: 0},
    {label: 'Controle', data: ctrl, borderColor: C_CTRL, borderWidth: 4, order: 1},
    {label: 'gemiddelde', data: mean, borderColor: C_MEAN, borderWidth: 3, borderDash: [3, 3], order: 2},
    {label: 'mediaan', data: median, borderColor: C_MED, borderWidth: 2.5, borderDash: [10, 4, 2, 4], order: 3}
  ];
  leden.forEach(m => datasets.push({label: 'Leden', data: m, borderColor: C_LID, borderWidth: 1, order: 10}));
  return new Chart(document.getElementById(id), {
    type: 'line',
    data: {labels: times, datasets},
    plugins: [headerPlugin],
    options: {
      responsive: false,
      animation: false,
      layout: {padding: {top: 44, right: 1, left: 0, bottom: 0}},
      plugins: {legend: {display: false}, tooltip: {enabled: false}, title: {display: false}, header: {title}},
      elements: {point: {radius: 0}, line: {tension: 0, borderJoinStyle: 'round', fill: false}},
      scales: {
        x: {
          type: 'category', offset: false,
          grid: {
            color: c => ((c.index - 1) % 4 === 0) ? '#555555' : '#dcdcdc',
            lineWidth: 1, drawTicks: true, tickLength: 5, tickColor: '#000', tickWidth: 1
          },
          border: {display: true, color: '#000', width: 2},
          ticks: {
            autoSkip: false, maxRotation: 0, minRotation: 0, padding: 1, color: '#000',
            font: {family: FONT, size: 11},
            callback: (v, i) => (i >= 3 && (i - 3) % 4 === 0 && dayLabels[(i - 3) / 4]) ? dayLabels[(i - 3) / 4] : ''
          },
          afterFit: s => { s.height = 19; }
        },
        y: {
          min: yMin, max: yMax,
          ticks: {stepSize: 5, padding: 5, color: '#000', font: {family: FONT, size: 11}},
          grid: {
            color: c => c.tick.value === 0 ? 'rgba(0,0,0,0)' : (c.tick.value === yMax ? '#000' : '#dcdcdc'),
            lineWidth: c => c.tick.value === yMax ? 1.5 : 1,
            drawTicks: false
          },
          border: {display: true, color: '#000', width: 1.5},
          afterFit: s => { s.width = 32; }
        }
      }
    }
  });
}

makeChart('c1', 'Temperatuur', -20, 15, tempOper, tempControle, tempGemiddelde, tempMediaan, tempLeden);
makeChart('c2', 'Dauwpunt', -25, 15, dewOper, dewControle, dewGemiddelde, dewMediaan, dewLeden);
</script></body></html>
